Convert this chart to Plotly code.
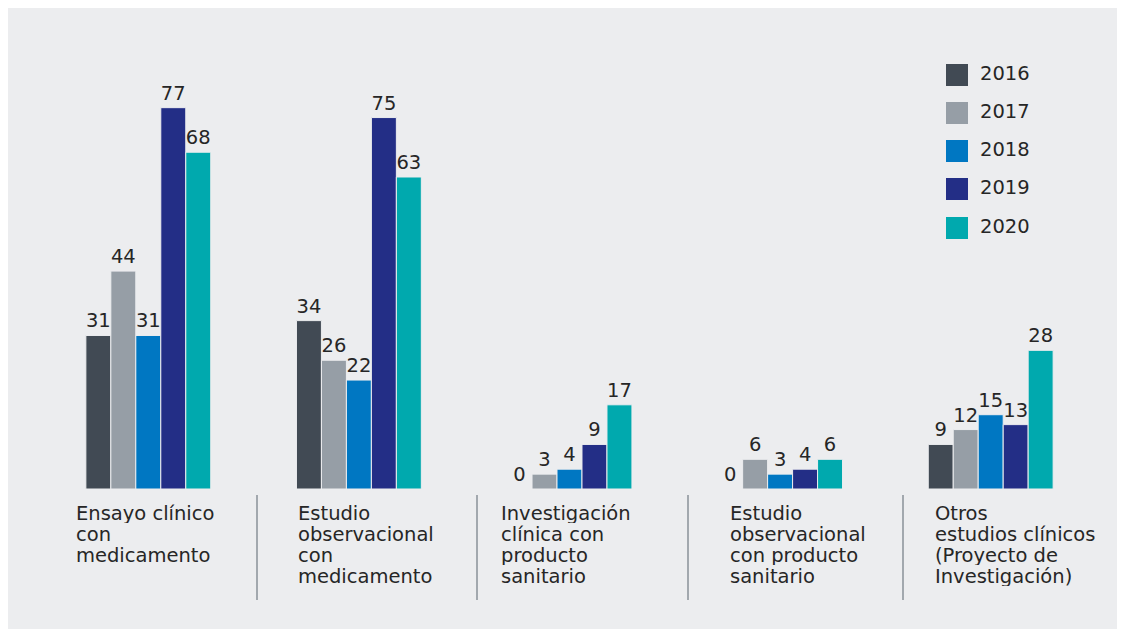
import plotly.graph_objects as go

categories = [
    ["Ensayo clínico", "con", "medicamento"],
    ["Estudio", "observacional", "con", "medicamento"],
    ["Investigación", "clínica con", "producto", "sanitario"],
    ["Estudio", "observacional", "con producto", "sanitario"],
    ["Otros", "estudios clínicos", "(Proyecto de", "Investigación)"],
]
years = ["2016", "2017", "2018", "2019", "2020"]
values = {
    "2016": [31, 34, 0, 0, 9],
    "2017": [44, 26, 3, 6, 12],
    "2018": [31, 22, 4, 3, 15],
    "2019": [77, 75, 9, 4, 13],
    "2020": [68, 63, 17, 6, 28],
}
colors = ["#414A54", "#969EA6", "#0077C2", "#232E86", "#00A9AE"]

BG = "#ECEDEF"
FONT = "DejaVu Sans"
TXT = "#262626"
FS = 19.5
WT = 400

fig = go.Figure()
xs = list(range(len(categories)))
for yr, col in zip(years, colors):
    fig.add_trace(go.Bar(
        x=xs, y=values[yr], name=yr,
        marker=dict(color=col, line=dict(color=BG, width=1)),
        text=[str(v) for v in values[yr]], textposition="outside",
        textfont=dict(size=FS, color=TXT, family=FONT, weight=WT),
        cliponaxis=False, showlegend=False,
    ))

# legend drawn on an overlay axis measured in page pixels
leg_y = [75, 113, 151, 189, 228]
fig.add_trace(go.Scatter(
    x=[957] * 5, y=leg_y, mode="markers",
    marker=dict(symbol="square", size=22, color=colors, line=dict(width=0)),
    xaxis="x2", yaxis="y2", showlegend=False, hoverinfo="skip",
))
fig.add_trace(go.Scatter(
    x=[980] * 5, y=leg_y, mode="text", text=years, textposition="middle right",
    textfont=dict(size=FS, color=TXT, family=FONT, weight=WT),
    xaxis="x2", yaxis="y2", showlegend=False, hoverinfo="skip",
))

X0, X1, YB, YT = 43, 1096, 489, 20


def px_x(p):
    return (p - X0) / (X1 - X0)


def px_y(p):
    return (YB - p) / (YB - YT)


label_x = [75, 297, 500, 729, 934]
for lx, lines in zip(label_x, categories):
    for i, line in enumerate(lines):
        fig.add_annotation(x=px_x(lx), y=px_y(513 + 21 * i), xref="paper", yref="paper",
                           text=line, showarrow=False, xanchor="left", yanchor="middle",
                           align="left", height=20, borderpad=0,
                           font=dict(size=FS, color=TXT, family=FONT, weight=WT))

for sx in [257, 477, 688, 903]:
    fig.add_shape(type="line", x0=px_x(sx), x1=px_x(sx), y0=px_y(495), y1=px_y(600),
                  xref="paper", yref="paper", line=dict(color="#8A9098", width=1.5))

fig.update_layout(
    width=1117, height=621,
    margin=dict(l=35, r=29, t=12, b=140),
    paper_bgcolor=BG, plot_bgcolor=BG,
    barmode="group", bargap=0.407, bargroupgap=0,
    font=dict(family=FONT, color=TXT),
    xaxis=dict(range=[-0.5, 4.5], visible=False, fixedrange=True),
    yaxis=dict(range=[0, 94.7], visible=False, fixedrange=True),
    xaxis2=dict(range=[X0, X1], overlaying="x", visible=False, anchor="y2"),
    yaxis2=dict(range=[YB, YT], overlaying="y", visible=False, anchor="x2"),
)

fig.write_html("out.html")
